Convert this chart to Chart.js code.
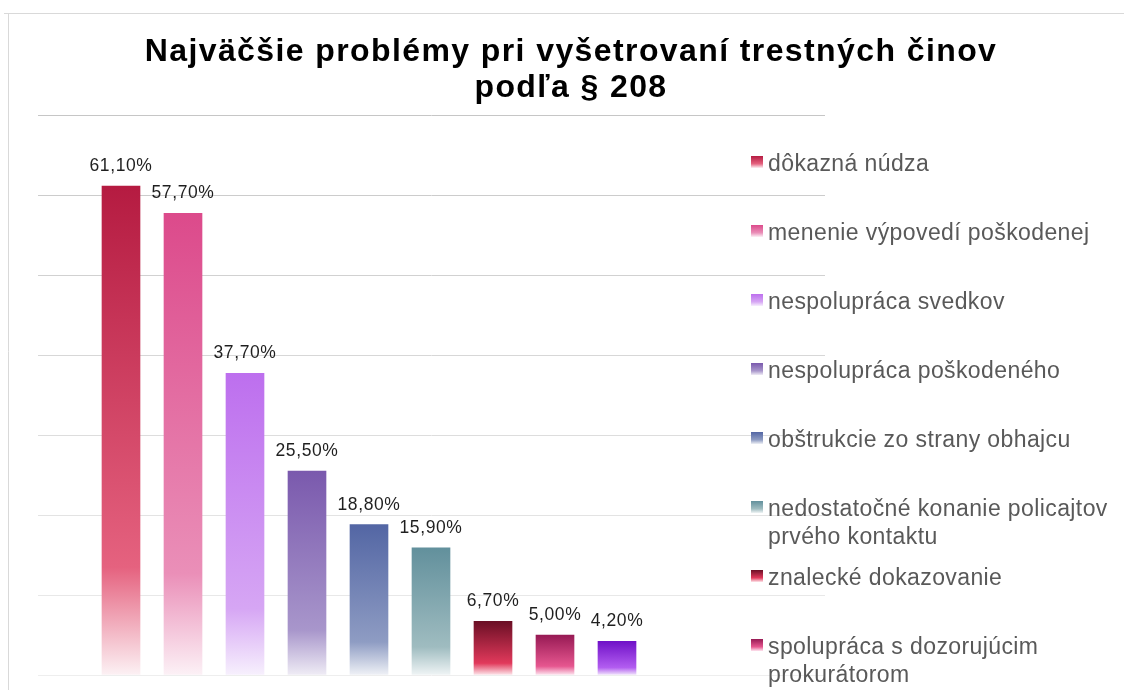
<!DOCTYPE html>
<html lang="sk">
<head>
<meta charset="UTF-8">
<title>Najväčšie problémy pri vyšetrovaní trestných činov podľa § 208</title>
<script src="https://cdn.jsdelivr.net/npm/chart.js@4.4.0/dist/chart.umd.min.js"></script>
<style>
    html, body { margin: 0; padding: 0; background: #ffffff; }
    #chartBox { position: relative; width: 1124px; height: 690px; }
</style>
<script>
    // categories (multi-line where the legend wraps)
    const problemLabels = [
        ['dôkazná núdza'],
        ['menenie výpovedí poškodenej'],
        ['nespolupráca svedkov'],
        ['nespolupráca poškodeného'],
        ['obštrukcie zo strany obhajcu'],
        ['nedostatočné konanie policajtov', 'prvého kontaktu'],
        ['znalecké dokazovanie'],
        ['spolupráca s dozorujúcim', 'prokurátorom'],
        ['iné']
    ];
    // share of answers in %
    const problemValues = [61.1, 57.7, 37.7, 25.5, 18.8, 15.9, 6.7, 5.0, 4.2];
    const yMax = 70;
    const yStep = 10;

    // gradient colours per bar: top, lighter middle, faded bottom
    const topColors = ['#b51b41', '#dc4a8b', '#bd6fee', '#7a59ad', '#5366a4', '#62909c', '#6b0f25', '#971a54', '#7011c8'];
    const midColors = ['#e5627f', '#ea8fb8', '#d6a6f4', '#a896cb', '#8e9cc3', '#9fbcc0', '#e1395b', '#e6568f', '#b25df0'];
    const lowColors = ['#fcf1f4', '#fcf1f6', '#f7f0fd', '#efecf5', '#eff1f6', '#eff4f5', '#fde6eb', '#fde6f0', '#f1e5fc'];

    const fontFamily = '"Liberation Sans", Arial, sans-serif';

    function formatPct(v) {
        return v.toFixed(2).replace('.', ',') + '%';
    }

    function makeGradient(ctx, top, bottom, i) {
        const g = ctx.createLinearGradient(0, top, 0, bottom);
        g.addColorStop(0, topColors[i]);
        g.addColorStop(0.78, midColors[i]);
        g.addColorStop(1, lowColors[i]);
        return g;
    }

    // outer frame of the chart object
    const frame = {
        id: 'frame',
        beforeDraw(chart) {
            const ctx = chart.ctx;
            ctx.save();
            ctx.strokeStyle = '#d9d9d9';
            ctx.lineWidth = 1;
            ctx.beginPath();
            ctx.moveTo(4, 13.5);
            ctx.lineTo(chart.width, 13.5);
            ctx.moveTo(8.5, 13);
            ctx.lineTo(8.5, chart.height);
            ctx.stroke();
            ctx.restore();
            // title text is a bit spread out in the original
            ctx.letterSpacing = '1.4px';
        },
        beforeDatasetsDraw(chart) {
            chart.ctx.letterSpacing = '0px';
        }
    };

    const valueLabels = {
        id: 'valueLabels',
        afterDatasetsDraw(chart) {
            const ctx = chart.ctx;
            const meta = chart.getDatasetMeta(0);
            ctx.save();
            ctx.letterSpacing = '0.6px';
            ctx.font = '17.5px ' + fontFamily;
            ctx.fillStyle = '#1f1f1f';
            ctx.textAlign = 'center';
            ctx.textBaseline = 'alphabetic';
            meta.data.forEach((bar, i) => {
                ctx.fillText(formatPct(problemValues[i]), bar.x, bar.y - 15);
            });
            ctx.restore();
        }
    };

    // legend on the right, overlapping the grid like in the original
    const sideLegend = {
        id: 'sideLegend',
        afterDraw(chart) {
            const ctx = chart.ctx;
            ctx.save();
            ctx.letterSpacing = '0.4px';
            ctx.font = '23px ' + fontFamily;
            ctx.textAlign = 'left';
            ctx.textBaseline = 'alphabetic';
            problemLabels.forEach((lines, i) => {
                const base = 171 + i * 69;
                const g = ctx.createLinearGradient(0, base - 15, 0, base - 3);
                g.addColorStop(0, topColors[i]);
                g.addColorStop(0.65, midColors[i]);
                g.addColorStop(1, lowColors[i]);
                ctx.fillStyle = g;
                ctx.fillRect(751, base - 15, 12, 12);
                ctx.fillStyle = '#595959';
                lines.forEach((t, j) => ctx.fillText(t, 768, base + j * 28));
            });
            ctx.restore();
        }
    };

    function gridColor(c) {
        const v = c.tick ? c.tick.value : 0;
        const g = Math.round(238 - (v / yMax) * 40);
        return `rgb(${g}, ${g}, ${g})`;
    }

    function drawChart() {
        const ctx = document.getElementById('problemChart').getContext('2d');
        new Chart(ctx, {
            type: 'bar',
            data: {
                datasets: [{
                    label: 'Najväčšie problémy',
                    data: problemValues.map((v, i) => ({ x: i, y: v })),
                    barThickness: 38,
                    borderWidth: 0,
                    backgroundColor: (c) => {
                        const y = c.chart.scales.y;
                        if (!y || c.type !== 'data' || !c.chart.chartArea) return topColors[c.dataIndex];
                        const top = y.getPixelForValue(c.raw.y);
                        const bottom = y.getPixelForValue(0);
                        return makeGradient(c.chart.ctx, top, bottom, c.dataIndex);
                    }
                }]
            },
            options: {
                responsive: true,
                maintainAspectRatio: false,
                animation: false,
                devicePixelRatio: 1,
                layout: { padding: { left: 18, right: 0, top: 0, bottom: 15 } },
                scales: {
                    x: {
                        type: 'linear',
                        display: false,
                        offset: false,
                        // first bar sits 83px into the plot, bars 62px apart
                        min: -83 / 62,
                        max: (787 - 83) / 62
                    },
                    y: {
                        position: 'left',
                        min: 0,
                        max: yMax,
                        ticks: { display: false, stepSize: yStep },
                        border: { display: false },
                        grid: { color: gridColor, lineWidth: 1, drawTicks: false },
                        afterFit: (s) => { s.width = 20; }
                    },
                    yRight: {
                        position: 'right',
                        display: true,
                        ticks: { display: false },
                        border: { display: false },
                        grid: { display: false },
                        afterFit: (s) => { s.width = 299; }
                    }
                },
                plugins: {
                    legend: { display: false },
                    tooltip: { enabled: false },
                    title: {
                        display: true,
                        text: ['Najväčšie problémy pri vyšetrovaní trestných činov', 'podľa § 208'],
                        color: '#000000',
                        font: { family: fontFamily, size: 32, weight: 'bold', lineHeight: 1.125 },
                        padding: { top: 34, bottom: 9 }
                    }
                }
            },
            plugins: [frame, valueLabels, sideLegend]
        });
    }

    window.onload = function () {
        drawChart();
    }
</script>
</head>
<body>
    <div id="chartBox"><canvas id="problemChart"></canvas></div>
</body>
</html>
